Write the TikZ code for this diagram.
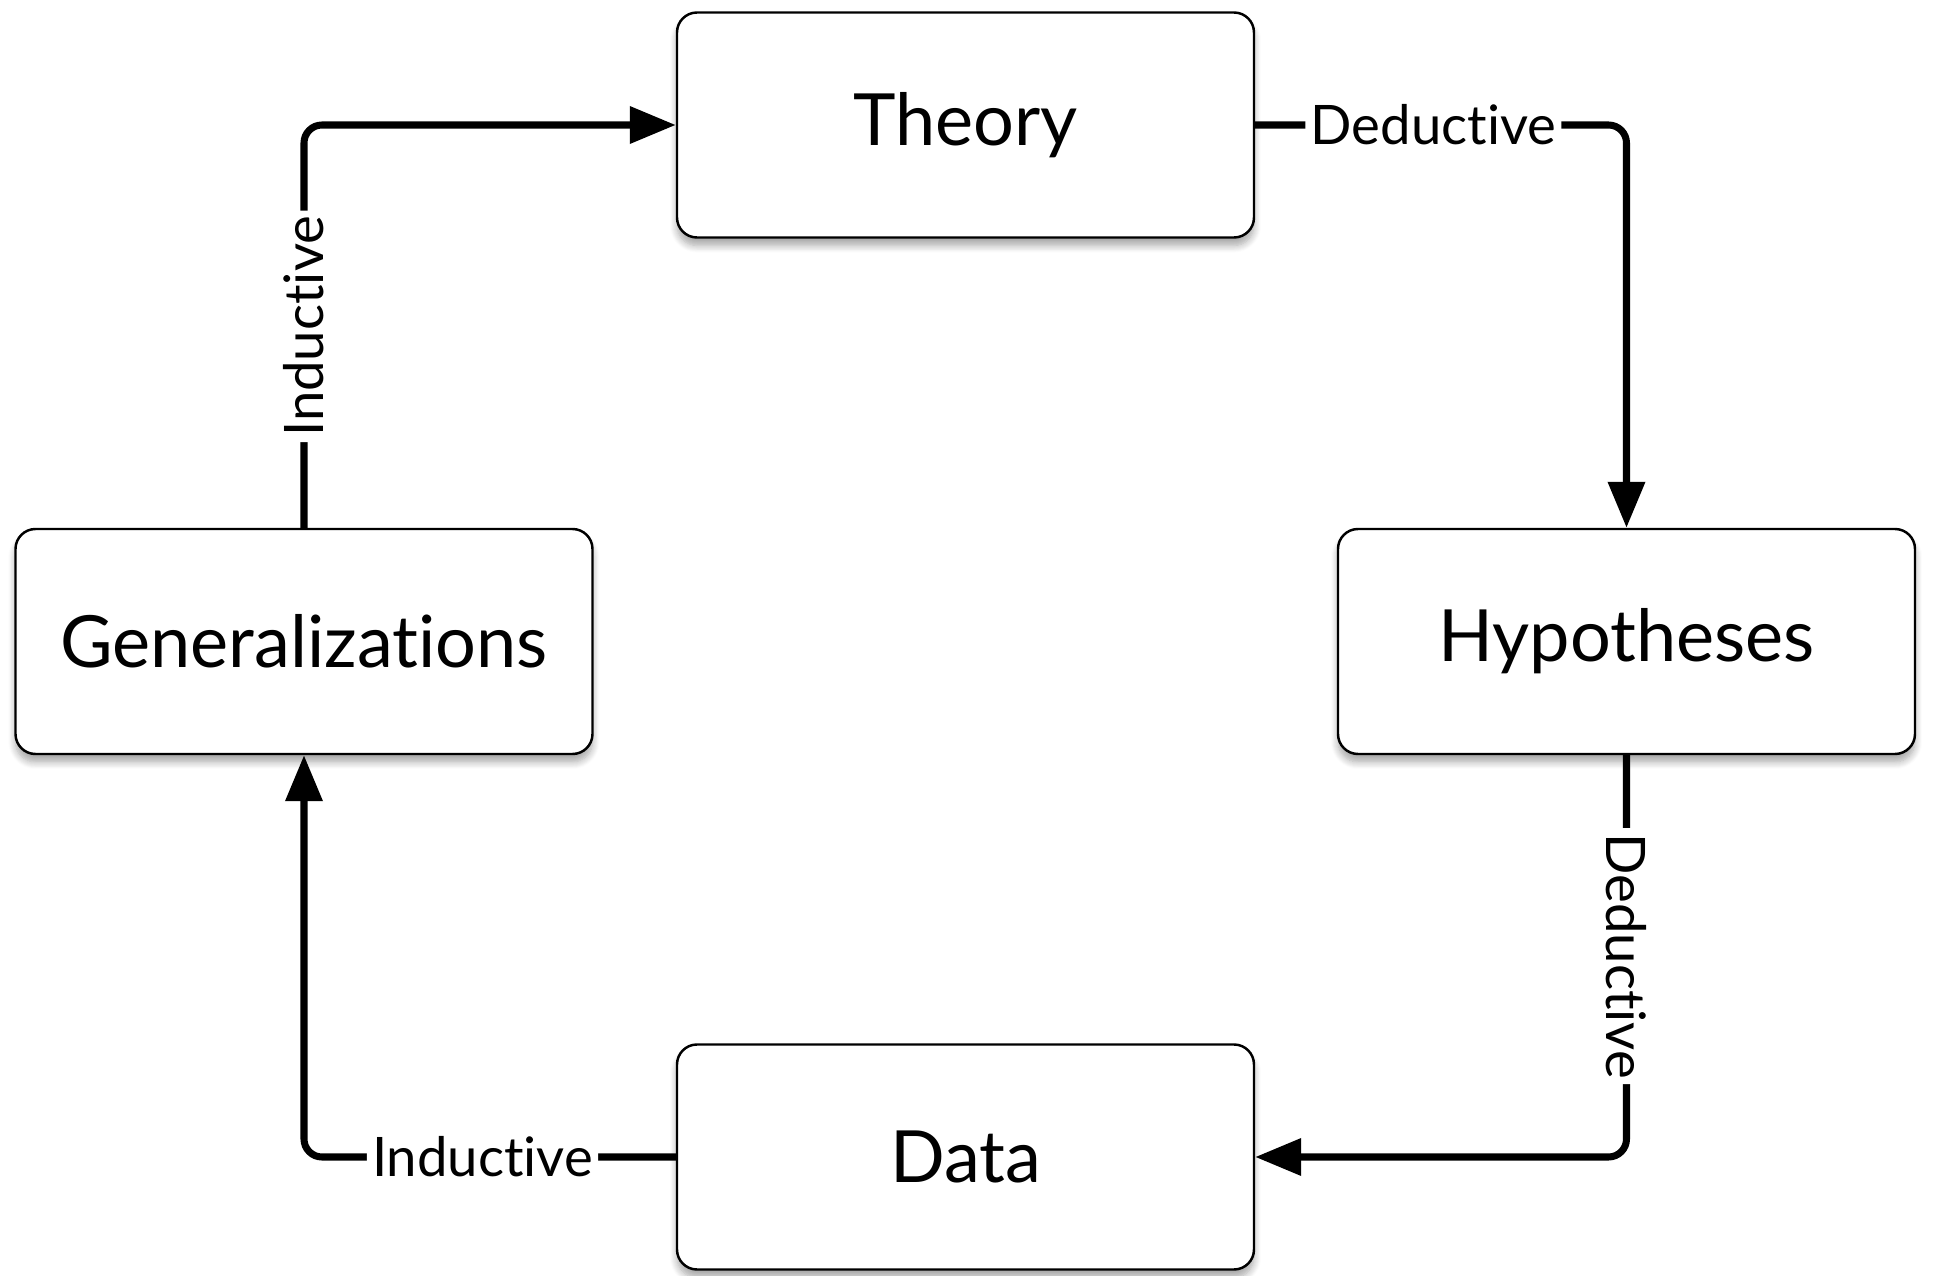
\documentclass[tikz,border=0pt]{standalone}
\usepackage{fontspec}
\setmainfont{Lato}[Ligatures={NoCommon,NoRare}]
\usetikzlibrary{arrows.meta,calc,shadows.blur}

\begin{document}
\begin{tikzpicture}[
  stage/.style={draw=black,line width=0.7pt,rounded corners=0.2cm,fill=white,
    minimum width=5.77cm,minimum height=2.25cm,font=\fontsize{20.5}{24}\selectfont,
    blur shadow={shadow xshift=0pt,shadow yshift=-0.08cm,shadow blur steps=8,shadow opacity=35}},
  flow/.style={line width=2pt,rounded corners=0.18cm,-{Triangle[length=0.46cm,width=0.36cm]}},
  tag/.style={fill=white,inner sep=1.5pt,font=\fontsize{15.5}{18}\selectfont}]
\useasboundingbox (0,0) rectangle (19.33,12.75);
\node[stage] (theory) at (9.655,11.50) {Theory};
\node[stage] (hyp) at (16.265,6.335) {Hypotheses};
\node[stage] (gen) at (3.04,6.335) {Generalizations};
\node[stage] (data) at (9.655,1.18) {Data};
\draw[flow] (theory.east) -| node[tag,pos=0.24] {Deductive} (hyp.north);
\draw[flow] (hyp.south) |- node[tag,pos=0.25,rotate=-90] {Deductive} (data.east);
\draw[flow] (data.west) -| node[tag,pos=0.26] {Inductive} (gen.south);
\draw[flow] (gen.north) |- node[tag,pos=0.25,rotate=90] {Inductive} (theory.west);
\end{tikzpicture}
\end{document}
